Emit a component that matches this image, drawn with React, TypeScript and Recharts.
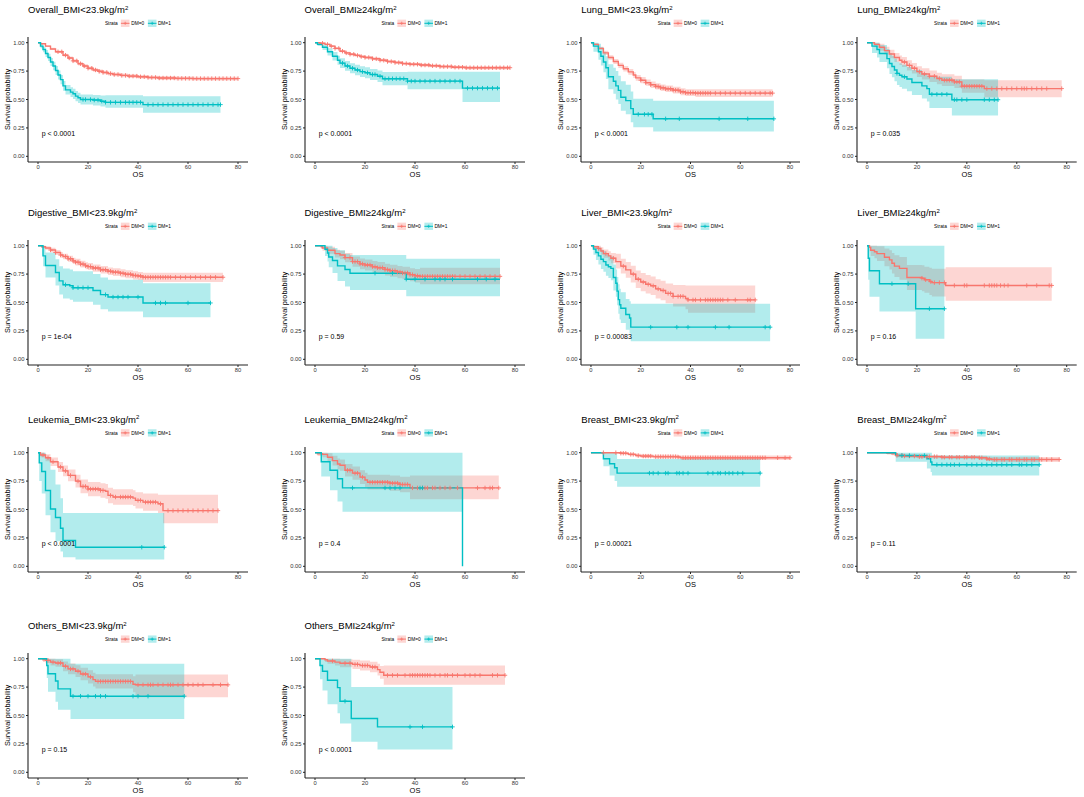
import React from "react";
import { ComposedChart, Area, Line, Scatter, XAxis, YAxis, ReferenceDot } from "recharts";

// each step: [time, survival, lower CI, upper CI]
type Step = [number, number, number, number];

const RED = "#F8766D";
const TEAL = "#00BFC4";

const titles = [
  "Overall_BMI<23.9kg/m", "Overall_BMI≥24kg/m", "Lung_BMI<23.9kg/m", "Lung_BMI≥24kg/m",
  "Digestive_BMI<23.9kg/m", "Digestive_BMI≥24kg/m", "Liver_BMI<23.9kg/m", "Liver_BMI≥24kg/m",
  "Leukemia_BMI<23.9kg/m", "Leukemia_BMI≥24kg/m", "Breast_BMI<23.9kg/m", "Breast_BMI≥24kg/m",
  "Others_BMI<23.9kg/m", "Others_BMI≥24kg/m",
];
const pValues = [
  "p < 0.0001", "p < 0.0001", "p < 0.0001", "p = 0.035",
  "p = 1e-04", "p = 0.59", "p = 0.00083", "p = 0.16",
  "p < 0.0001", "p = 0.4", "p = 0.00021", "p = 0.11",
  "p = 0.15", "p < 0.0001",
];
const xTicks = [0, 20, 40, 60, 80];
const yTicks = [0, 0.25, 0.5, 0.75, 1];

// Overall BMI<23.9
const overallLow0: Step[] = [
  [0, 1, 1, 1], [1, 0.99, 0.985, 0.995], [3, 0.97, 0.962, 0.978], [5, 0.945, 0.935, 0.955],
  [7, 0.92, 0.909, 0.931], [10, 0.89, 0.878, 0.902], [12, 0.865, 0.852, 0.878], [14, 0.84, 0.826, 0.854],
  [16, 0.815, 0.8, 0.83], [18, 0.795, 0.78, 0.81], [20, 0.775, 0.76, 0.79], [22, 0.76, 0.745, 0.775],
  [24, 0.748, 0.732, 0.764], [26, 0.738, 0.722, 0.754], [28, 0.728, 0.712, 0.744], [30, 0.72, 0.704, 0.736],
  [33, 0.712, 0.696, 0.728], [36, 0.706, 0.69, 0.722], [40, 0.7, 0.684, 0.716], [44, 0.694, 0.678, 0.71],
  [48, 0.689, 0.672, 0.706], [55, 0.686, 0.669, 0.703], [62, 0.684, 0.667, 0.701], [80, 0.684, 0.667, 0.701],
];
const overallLow0Cens = [8, 9.5, 11, 12.5, 14, 15.5, 17, 18.5, 20, 21.5, 23, 24.5, 26, 27.5, 29, 30.5, 32, 33.5, 35, 36.5, 38, 39.5, 41, 42.5, 44, 45.5, 47, 48.5, 50, 51.5, 53, 54.5, 56, 57.5, 59, 60.5, 62, 63.5, 65, 66.5, 68, 69.5, 71, 72.5, 74, 75.5, 77, 78.5, 80];
const overallLow1: Step[] = [
  [0, 1, 1, 1], [1, 0.97, 0.95, 0.99], [2, 0.94, 0.915, 0.965], [3, 0.905, 0.875, 0.935],
  [4, 0.87, 0.838, 0.902], [5, 0.83, 0.795, 0.865], [6, 0.795, 0.758, 0.832], [7, 0.755, 0.716, 0.794],
  [8, 0.715, 0.675, 0.755], [9, 0.675, 0.634, 0.716], [10, 0.62, 0.578, 0.662], [11, 0.585, 0.543, 0.627],
  [13, 0.565, 0.523, 0.607], [14, 0.55, 0.505, 0.595], [15, 0.53, 0.485, 0.575], [16, 0.515, 0.47, 0.56],
  [17, 0.5, 0.455, 0.545], [22, 0.495, 0.448, 0.54], [25, 0.485, 0.438, 0.535], [27, 0.475, 0.428, 0.537],
  [42, 0.455, 0.383, 0.528], [73, 0.455, 0.383, 0.528],
];
const overallLow1Cens = [18, 19, 21, 22.5, 24, 25.5, 27, 29, 31, 33, 35, 36.5, 38, 39.5, 41, 44, 46, 48, 50, 52, 54, 56, 58, 60, 62, 64, 66, 68, 70, 72, 73];

// Overall BMI>=24
const overallHigh0: Step[] = [
  [0, 1, 1, 1], [2, 0.995, 0.99, 1], [4, 0.985, 0.978, 0.992], [6, 0.97, 0.962, 0.978],
  [8, 0.95, 0.941, 0.959], [10, 0.925, 0.915, 0.935], [12, 0.91, 0.899, 0.921], [14, 0.898, 0.886, 0.91],
  [16, 0.888, 0.876, 0.9], [18, 0.878, 0.866, 0.89], [20, 0.87, 0.857, 0.883], [23, 0.858, 0.845, 0.871],
  [26, 0.845, 0.832, 0.858], [29, 0.834, 0.821, 0.847], [32, 0.825, 0.812, 0.838], [35, 0.816, 0.803, 0.829],
  [38, 0.81, 0.796, 0.824], [42, 0.803, 0.789, 0.817], [46, 0.797, 0.783, 0.811], [50, 0.79, 0.776, 0.804],
  [55, 0.784, 0.77, 0.798], [60, 0.78, 0.765, 0.795], [78, 0.78, 0.765, 0.795],
];
const overallHigh0Cens = [3, 5, 6.5, 8, 9.5, 11, 12.5, 14, 15.5, 17, 18.5, 20, 21.5, 23, 24.5, 26, 27.5, 29, 30.5, 32, 33.5, 35, 36.5, 38, 39.5, 41, 42.5, 44, 45.5, 47, 48.5, 50, 51.5, 53, 54.5, 56, 57.5, 59, 60.5, 62, 63.5, 65, 66.5, 68, 69.5, 71, 72.5, 74, 75.5, 77, 78];
const overallHigh1: Step[] = [
  [0, 1, 1, 1], [1, 0.985, 0.97, 1], [3, 0.96, 0.935, 0.985], [5, 0.92, 0.888, 0.952],
  [7, 0.88, 0.843, 0.917], [9, 0.845, 0.805, 0.885], [10, 0.82, 0.778, 0.862], [12, 0.795, 0.752, 0.838],
  [14, 0.775, 0.73, 0.82], [16, 0.76, 0.714, 0.806], [18, 0.745, 0.698, 0.792], [20, 0.735, 0.687, 0.783],
  [22, 0.72, 0.671, 0.769], [25, 0.705, 0.655, 0.755], [27, 0.683, 0.625, 0.742], [37, 0.662, 0.59, 0.745],
  [59, 0.6, 0.478, 0.745], [74, 0.6, 0.478, 0.745],
];
const overallHigh1Cens = [11, 13, 15, 17, 19, 21, 23, 24, 26, 28, 29.5, 31, 32.5, 34, 35.5, 37, 38.5, 40, 42, 44, 46, 48, 50, 52, 54, 56, 58, 61, 63, 65, 67, 69, 71, 73];

// Lung BMI<23.9
const lungLow0: Step[] = [
  [0, 1, 1, 1], [1, 0.985, 0.975, 0.995], [3, 0.95, 0.935, 0.965], [5, 0.91, 0.892, 0.928],
  [7, 0.87, 0.85, 0.89], [9, 0.835, 0.813, 0.857], [11, 0.8, 0.777, 0.823], [13, 0.77, 0.746, 0.794],
  [15, 0.743, 0.718, 0.768], [17, 0.715, 0.689, 0.741], [18, 0.69, 0.664, 0.716], [20, 0.67, 0.643, 0.697],
  [22, 0.648, 0.62, 0.676], [24, 0.63, 0.602, 0.658], [26, 0.615, 0.587, 0.643], [28, 0.603, 0.574, 0.632],
  [30, 0.594, 0.565, 0.623], [33, 0.582, 0.552, 0.612], [36, 0.568, 0.538, 0.598], [38, 0.56, 0.53, 0.59],
  [42, 0.556, 0.522, 0.59], [73, 0.556, 0.522, 0.59],
];
const lungLow0Cens = [20, 22, 24, 26, 27, 28, 29, 30, 31, 32, 33, 34, 35, 36, 37, 38, 39, 40, 41, 42, 43, 44, 45, 46, 47, 48, 50, 52, 54, 56, 58, 60, 62, 64, 66, 68, 70, 72, 73];
const lungLow1: Step[] = [
  [0, 1, 1, 1], [1, 0.97, 0.92, 1], [3, 0.92, 0.85, 0.99], [4, 0.88, 0.8, 0.96],
  [5, 0.83, 0.74, 0.92], [6, 0.78, 0.68, 0.88], [7, 0.7, 0.59, 0.81], [9, 0.66, 0.55, 0.78],
  [10, 0.62, 0.5, 0.75], [11, 0.58, 0.46, 0.71], [12, 0.52, 0.4, 0.66], [14, 0.49, 0.37, 0.63],
  [16, 0.42, 0.3, 0.57], [17, 0.37, 0.255, 0.507], [25, 0.33, 0.218, 0.49], [73.5, 0.33, 0.218, 0.49],
];
const lungLow1Cens = [19, 21.5, 23, 24.5, 30, 35.5, 51.5, 63, 73.5];

// Lung BMI>=24
const lungHigh0: Step[] = [
  [0, 1, 1, 1], [3, 0.985, 0.96, 1], [5, 0.96, 0.93, 0.99], [7, 0.93, 0.895, 0.965],
  [9, 0.9, 0.862, 0.938], [11, 0.87, 0.83, 0.91], [13, 0.845, 0.803, 0.887], [14, 0.83, 0.787, 0.873],
  [16, 0.8, 0.755, 0.845], [18, 0.775, 0.728, 0.822], [20, 0.745, 0.697, 0.793], [22, 0.725, 0.676, 0.774],
  [25, 0.705, 0.655, 0.755], [28, 0.685, 0.634, 0.736], [30, 0.67, 0.618, 0.722], [35, 0.655, 0.602, 0.708],
  [38, 0.617, 0.56, 0.675], [47, 0.596, 0.52, 0.67], [78, 0.596, 0.52, 0.67],
];
const lungHigh0Cens = [15, 17, 19, 21, 23, 25, 27, 29, 31, 32, 33, 34, 35, 36, 37, 38, 39, 40, 41, 42, 43, 44, 45, 46, 48, 50, 52, 54, 56, 58, 60, 62, 63, 64, 66, 68, 70, 72, 78];
const lungHigh1: Step[] = [
  [0, 1, 1, 1], [2, 0.97, 0.91, 1], [4, 0.94, 0.87, 1], [5, 0.905, 0.83, 0.98],
  [8, 0.86, 0.775, 0.945], [9, 0.817, 0.725, 0.91], [10, 0.79, 0.695, 0.885], [11, 0.76, 0.66, 0.86],
  [12, 0.73, 0.628, 0.832], [13, 0.714, 0.61, 0.818], [14, 0.7, 0.595, 0.805], [16, 0.68, 0.573, 0.787],
  [18, 0.65, 0.54, 0.76], [22, 0.62, 0.508, 0.732], [24, 0.596, 0.482, 0.71], [25, 0.546, 0.425, 0.7],
  [34, 0.498, 0.36, 0.678], [52.5, 0.498, 0.36, 0.678],
];
const lungHigh1Cens = [12, 15, 26, 28, 30, 32, 35, 36, 38, 40, 47, 49, 51, 52.5];

// Digestive BMI<23.9
const digLow0: Step[] = [
  [0, 1, 1, 1], [1.5, 0.99, 0.98, 1], [3, 0.98, 0.965, 0.995], [5, 0.962, 0.943, 0.981],
  [7, 0.94, 0.918, 0.962], [9, 0.918, 0.894, 0.942], [10, 0.905, 0.88, 0.93], [12, 0.885, 0.858, 0.912],
  [14, 0.866, 0.838, 0.894], [15, 0.855, 0.826, 0.884], [17, 0.838, 0.808, 0.868], [19, 0.824, 0.793, 0.855],
  [20, 0.816, 0.785, 0.847], [22, 0.803, 0.771, 0.835], [25, 0.788, 0.755, 0.821], [28, 0.775, 0.742, 0.808],
  [30, 0.767, 0.733, 0.801], [33, 0.757, 0.722, 0.792], [35, 0.748, 0.713, 0.783], [38, 0.738, 0.702, 0.774],
  [40, 0.733, 0.697, 0.769], [42, 0.722, 0.68, 0.762], [74, 0.722, 0.68, 0.762],
];
const digLow0Cens = [5, 7, 9, 11, 12, 13, 14, 15, 16, 17, 18, 19, 20, 21, 22, 23, 24, 25, 26, 27, 28, 29, 30, 31, 32, 33, 34, 35, 36, 37, 38, 39, 40, 41, 42, 43, 44, 45, 46, 47, 48, 49, 50, 51, 52, 53, 55, 57, 59, 61, 63, 65, 67, 69, 71, 74];
const digLow1: Step[] = [
  [0, 1, 1, 1], [2, 0.91, 0.82, 1], [3, 0.825, 0.72, 0.94], [7, 0.764, 0.65, 0.88],
  [8.5, 0.69, 0.57, 0.82], [10, 0.656, 0.535, 0.8], [12.7, 0.647, 0.525, 0.79], [14, 0.63, 0.507, 0.775],
  [22, 0.606, 0.48, 0.75], [25, 0.569, 0.44, 0.72], [28, 0.548, 0.42, 0.7], [42, 0.496, 0.37, 0.67],
  [69, 0.496, 0.37, 0.67],
];
const digLow1Cens = [11, 14, 16, 18, 20, 27, 30, 32, 34, 36, 40, 47, 49, 51, 60, 69];

// Digestive BMI>=24
const digHigh0: Step[] = [
  [0, 1, 1, 1], [2.5, 0.99, 0.97, 1], [3, 0.98, 0.955, 1], [5, 0.96, 0.93, 0.99],
  [8, 0.93, 0.895, 0.965], [10, 0.918, 0.88, 0.956], [12, 0.895, 0.855, 0.935], [15, 0.86, 0.815, 0.905],
  [18, 0.84, 0.793, 0.887], [20, 0.83, 0.782, 0.878], [23, 0.815, 0.765, 0.865], [25, 0.806, 0.755, 0.857],
  [28, 0.79, 0.738, 0.842], [30, 0.78, 0.727, 0.833], [33, 0.768, 0.714, 0.822], [35, 0.76, 0.705, 0.815],
  [38, 0.745, 0.688, 0.802], [40, 0.735, 0.675, 0.795], [42, 0.73, 0.66, 0.805], [74, 0.73, 0.66, 0.805],
];
const digHigh0Cens = [12, 14, 15, 16, 17, 18, 19, 20, 21, 22, 23, 24, 25, 26, 27, 28, 29, 30, 31, 32, 33, 34, 35, 36, 37, 38, 39, 40, 41, 42, 43, 44, 45, 46, 47, 48, 49, 50, 51, 52, 53, 54, 55, 56, 58, 60, 62, 64, 66, 68, 70, 72, 74];
const digHigh1: Step[] = [
  [0, 1, 1, 1], [4, 0.968, 0.91, 1], [5, 0.935, 0.86, 1], [5.5, 0.9, 0.81, 1],
  [7, 0.87, 0.76, 0.98], [9, 0.822, 0.69, 0.96], [12, 0.79, 0.64, 0.93], [14, 0.758, 0.61, 0.918],
  [36.5, 0.705, 0.554, 0.885], [74, 0.705, 0.554, 0.885],
];
const digHigh1Cens = [24, 31, 36.5, 40, 44, 48, 50, 52, 55, 65, 68.5, 72];

// Liver BMI<23.9
const liverLow0: Step[] = [
  [0, 1, 1, 1], [1, 0.99, 0.97, 1], [3, 0.975, 0.95, 1], [4, 0.953, 0.92, 0.986],
  [5, 0.93, 0.893, 0.967], [7, 0.91, 0.87, 0.95], [8, 0.89, 0.845, 0.935], [10, 0.86, 0.8, 0.93],
  [12, 0.82, 0.755, 0.885], [14, 0.787, 0.717, 0.857], [16, 0.75, 0.676, 0.824], [18, 0.705, 0.628, 0.782],
  [20, 0.68, 0.6, 0.76], [22, 0.66, 0.579, 0.741], [24, 0.647, 0.565, 0.729], [26, 0.62, 0.536, 0.704],
  [28, 0.606, 0.52, 0.692], [30, 0.58, 0.493, 0.667], [33, 0.554, 0.465, 0.655], [38, 0.535, 0.44, 0.65],
  [39, 0.523, 0.41, 0.65], [66, 0.523, 0.41, 0.65],
];
const liverLow0Cens = [3, 6, 9, 13, 17, 19, 21, 23, 25, 27, 29, 31, 32, 33, 35, 36, 37, 39, 41, 42, 44, 46, 47, 48, 49, 50, 51, 52, 53, 55, 58, 63, 64, 66];
const liverLow1: Step[] = [
  [0, 1, 1, 1], [1, 0.97, 0.92, 1], [2, 0.94, 0.875, 1], [3, 0.91, 0.835, 0.985],
  [4, 0.88, 0.795, 0.965], [5, 0.86, 0.77, 0.95], [6, 0.83, 0.735, 0.925], [7, 0.815, 0.715, 0.915],
  [8, 0.8, 0.695, 0.905], [9, 0.72, 0.605, 0.835], [10, 0.67, 0.55, 0.79], [10.5, 0.6, 0.475, 0.725],
  [11, 0.525, 0.4, 0.66], [11.5, 0.48, 0.35, 0.62], [12, 0.45, 0.32, 0.59], [14, 0.394, 0.26, 0.53],
  [15.5, 0.364, 0.23, 0.51], [16, 0.283, 0.16, 0.49], [72, 0.283, 0.16, 0.49],
];
const liverLow1Cens = [24, 34.5, 39, 50, 55.5, 70, 72];

// Liver BMI>=24
const liverHigh0: Step[] = [
  [0, 1, 1, 1], [1, 0.985, 0.95, 1], [1.5, 0.96, 0.91, 1], [3, 0.947, 0.89, 1],
  [4, 0.93, 0.865, 0.995], [7, 0.898, 0.82, 0.975], [9, 0.875, 0.79, 0.96], [10, 0.845, 0.755, 0.935],
  [11, 0.82, 0.725, 0.915], [13, 0.8, 0.7, 0.9], [16, 0.72, 0.61, 0.83], [22, 0.714, 0.6, 0.828],
  [23, 0.7, 0.585, 0.815], [25, 0.685, 0.565, 0.805], [26, 0.675, 0.553, 0.797], [31.5, 0.65, 0.515, 0.81],
  [74, 0.65, 0.515, 0.81],
];
const liverHigh0Cens = [22, 23.5, 25.5, 27, 29, 31, 35, 39, 40, 47, 49, 50, 51, 52, 53.5, 55, 56.5, 64, 68, 73, 74];
const liverHigh1: Step[] = [
  [0, 1, 1, 1], [0.5, 0.89, 0.7, 1], [1, 0.78, 0.55, 1], [5, 0.665, 0.42, 1],
  [19.5, 0.445, 0.18, 1], [31, 0.445, 0.18, 1],
];
const liverHigh1Cens = [10, 16.5, 25, 31];

// Leukemia BMI<23.9
const leukLow0: Step[] = [
  [0, 1, 1, 1], [1, 0.98, 0.96, 1], [3, 0.956, 0.925, 0.987], [5, 0.92, 0.882, 0.958],
  [8, 0.874, 0.83, 0.918], [10, 0.84, 0.792, 0.888], [12, 0.8, 0.748, 0.852], [15, 0.75, 0.694, 0.806],
  [17, 0.703, 0.642, 0.764], [20, 0.68, 0.617, 0.743], [25, 0.668, 0.604, 0.732], [27, 0.66, 0.595, 0.725],
  [28, 0.624, 0.556, 0.692], [30, 0.61, 0.541, 0.679], [38, 0.6, 0.53, 0.67], [39, 0.58, 0.508, 0.652],
  [42, 0.565, 0.49, 0.64], [48, 0.55, 0.47, 0.63], [50, 0.49, 0.38, 0.63], [72, 0.49, 0.38, 0.63],
];
const leukLow0Cens = [2, 4, 6, 9, 11, 13, 16, 18, 19, 20, 21, 22, 23, 24, 25, 26, 29, 31, 33, 34, 35, 36, 37, 40, 41, 43, 44, 45, 46, 47, 49, 52, 54, 56, 58, 60, 62, 64, 66, 68, 70, 72];
const leukLow1: Step[] = [
  [0, 1, 1, 1], [0.5, 0.91, 0.75, 1], [1.5, 0.835, 0.64, 1], [3, 0.667, 0.45, 0.95],
  [5, 0.505, 0.3, 0.85], [7, 0.43, 0.22, 0.72], [9, 0.335, 0.13, 0.6], [10, 0.227, 0.08, 0.47],
  [15, 0.168, 0.06, 0.47], [50.5, 0.168, 0.06, 0.47],
];
const leukLow1Cens = [41.5, 50.5];

// Leukemia BMI>=24
const leukHigh0: Step[] = [
  [0, 1, 1, 1], [1, 0.99, 0.97, 1], [3, 0.985, 0.96, 1], [5, 0.96, 0.925, 0.995],
  [7, 0.93, 0.888, 0.972], [9, 0.9, 0.852, 0.948], [10, 0.89, 0.84, 0.94], [12, 0.845, 0.79, 0.9],
  [15, 0.82, 0.762, 0.878], [18, 0.785, 0.724, 0.846], [20, 0.76, 0.697, 0.823], [21, 0.74, 0.675, 0.805],
  [30, 0.732, 0.665, 0.799], [34, 0.72, 0.652, 0.788], [38, 0.69, 0.59, 0.8], [73.5, 0.69, 0.59, 0.8],
];
const leukHigh0Cens = [13, 14, 16, 17, 19, 22, 23, 24, 25, 26, 27, 28, 29, 30, 31, 32, 33, 34, 35, 36, 37, 39, 41, 43, 44, 45, 47, 48, 50, 52, 54, 57, 65, 68, 70, 71, 73.5];
const leukHigh1: Step[] = [
  [0, 1, 1, 1], [2.5, 0.92, 0.79, 1], [6, 0.845, 0.67, 1], [9, 0.77, 0.57, 1],
  [11, 0.69, 0.48, 1], [59, 0, 0.48, 1],
];
const leukHigh1Cens = [15, 28, 30, 32, 34, 42, 43];

// Breast BMI<23.9
const breastLow0: Step[] = [
  [0, 1, 1, 1], [12, 0.995, 0.985, 1], [15, 0.985, 0.972, 0.998], [18, 0.975, 0.96, 0.99],
  [20, 0.97, 0.954, 0.986], [25, 0.965, 0.948, 0.982], [35, 0.962, 0.944, 0.98], [36, 0.955, 0.935, 0.975],
  [80, 0.955, 0.935, 0.975],
];
const breastLow0Cens = [5, 10, 12, 13, 14, 16, 17, 19, 21, 22, 23, 24, 26, 27, 28, 29, 30, 31, 32, 33, 34, 35, 37, 38, 39, 40, 41, 42, 43, 44, 45, 46, 47, 48, 49, 50, 51, 52, 53, 54, 55, 56, 57, 58, 59, 60, 61, 62, 63, 64, 65, 66, 67, 68, 69, 70, 75, 78, 80];
const breastLow1: Step[] = [
  [0, 1, 1, 1], [5, 0.947, 0.88, 1], [7.5, 0.903, 0.8, 1], [9.5, 0.868, 0.75, 1],
  [10.5, 0.82, 0.7, 0.945], [68, 0.82, 0.7, 0.945],
];
const breastLow1Cens = [23.5, 25, 27, 30, 31, 34.5, 35.5, 37, 39, 47, 49, 51, 52, 54, 55.5, 57, 59, 61, 68];

// Breast BMI>=24
const breastHigh0: Step[] = [
  [0, 1, 1, 1], [8, 0.995, 0.985, 1], [10, 0.99, 0.978, 1], [12, 0.975, 0.96, 0.99],
  [15, 0.97, 0.955, 0.985], [20, 0.965, 0.95, 0.98], [30, 0.96, 0.944, 0.976], [45, 0.955, 0.938, 0.972],
  [48, 0.945, 0.926, 0.964], [50, 0.94, 0.918, 0.962], [77, 0.94, 0.918, 0.962],
];
const breastHigh0Cens = [12, 14, 15, 17, 19, 21, 22, 24, 25, 27, 28, 30, 31, 33, 34, 36, 37, 39, 40, 42, 43, 45, 46, 48, 49, 51, 52, 54, 55, 57, 58, 60, 61, 63, 64, 66, 67, 69, 70, 72, 74, 77];
const breastHigh1: Step[] = [
  [0, 1, 1, 1], [11.5, 0.975, 0.92, 1], [24, 0.947, 0.86, 1], [25.5, 0.918, 0.83, 1],
  [26, 0.894, 0.8, 0.975], [69, 0.894, 0.8, 0.975],
];
const breastHigh1Cens = [14, 17, 23, 28, 30, 32, 33.5, 35, 37, 40, 42, 44, 46, 48, 50, 52, 54, 56, 58, 61, 62, 64, 66, 69];

// Others BMI<23.9
const othersLow0: Step[] = [
  [0, 1, 1, 1], [2, 0.99, 0.97, 1], [3, 0.985, 0.96, 1], [5, 0.97, 0.94, 1],
  [7, 0.962, 0.93, 0.994], [10, 0.933, 0.89, 0.976], [12, 0.91, 0.862, 0.958], [15, 0.89, 0.838, 0.942],
  [17, 0.865, 0.81, 0.92], [20, 0.84, 0.782, 0.898], [22, 0.816, 0.755, 0.877], [23, 0.8, 0.737, 0.863],
  [38, 0.775, 0.705, 0.845], [39, 0.77, 0.66, 0.86], [76, 0.77, 0.66, 0.86],
];
const othersLow0Cens = [4, 6, 8, 9, 11, 13, 14, 16, 18, 19, 21, 24, 25, 26, 27, 28, 29, 30, 31, 32, 33, 34, 35, 36, 37, 40, 42, 44, 45, 46, 48, 50, 52, 53, 54, 56, 58, 60, 62, 64, 66, 70, 73, 76];
const othersLow1: Step[] = [
  [0, 1, 1, 1], [3.5, 0.94, 0.83, 1], [4, 0.868, 0.71, 1], [7, 0.804, 0.62, 1],
  [8, 0.734, 0.55, 1], [13, 0.67, 0.47, 0.955], [58.5, 0.67, 0.47, 0.955],
];
const othersLow1Cens = [14, 17, 20, 23, 25, 27, 38, 40, 44, 58.5];

// Others BMI>=24
const othersHigh0: Step[] = [
  [0, 1, 1, 1], [4, 0.99, 0.97, 1], [5, 0.98, 0.955, 1], [8, 0.97, 0.94, 1],
  [10, 0.96, 0.925, 0.995], [15, 0.95, 0.91, 0.99], [18, 0.94, 0.897, 0.983], [22, 0.927, 0.88, 0.974],
  [25, 0.904, 0.852, 0.956], [26, 0.88, 0.824, 0.936], [27.5, 0.854, 0.77, 0.94], [76, 0.854, 0.77, 0.94],
];
const othersHigh0Cens = [7, 12, 14, 16, 17, 19, 20, 21, 23, 24, 29, 31, 33, 36, 38, 39, 40, 41, 42, 43, 44, 45, 46, 48, 50, 52, 53, 55, 57, 60, 62, 64, 66, 71, 73, 76];
const othersHigh1: Step[] = [
  [0, 1, 1, 1], [2, 0.94, 0.82, 1], [3, 0.89, 0.72, 1], [5, 0.81, 0.6, 1],
  [9, 0.745, 0.52, 1], [10, 0.626, 0.43, 1], [14.5, 0.474, 0.27, 0.75], [25, 0.4, 0.2, 0.75],
  [55, 0.4, 0.2, 0.75],
];
const othersHigh1Cens = [12, 38, 43, 55];

const dm0Curves = [overallLow0, overallHigh0, lungLow0, lungHigh0, digLow0, digHigh0, liverLow0, liverHigh0, leukLow0, leukHigh0, breastLow0, breastHigh0, othersLow0, othersHigh0];
const dm0Cens = [overallLow0Cens, overallHigh0Cens, lungLow0Cens, lungHigh0Cens, digLow0Cens, digHigh0Cens, liverLow0Cens, liverHigh0Cens, leukLow0Cens, leukHigh0Cens, breastLow0Cens, breastHigh0Cens, othersLow0Cens, othersHigh0Cens];
const dm1Curves = [overallLow1, overallHigh1, lungLow1, lungHigh1, digLow1, digHigh1, liverLow1, liverHigh1, leukLow1, leukHigh1, breastLow1, breastHigh1, othersLow1, othersHigh1];
const dm1Cens = [overallLow1Cens, overallHigh1Cens, lungLow1Cens, lungHigh1Cens, digLow1Cens, digHigh1Cens, liverLow1Cens, liverHigh1Cens, leukLow1Cens, leukHigh1Cens, breastLow1Cens, breastHigh1Cens, othersLow1Cens, othersHigh1Cens];

// page layout (plot-area left edge / width per column, top per row)
const COL_LEFT = [28, 304.5, 581.3, 857.3];
const COL_W = [220, 220, 219, 219.7];
const ROW_TOP = [37, 240, 446.6, 652.8];
const PLOT_H = 125;
const Y_AXIS_W = 28;
const TOP_PAD = 37;
const X_AXIS_H = 30;
const INK = "#222";

function survAt(curve: Step[], t: number) {
  let s = curve[0][1];
  for (const p of curve) {
    if (p[0] <= t) s = p[1];
    else break;
  }
  return s;
}

const plusShape = (color: string) => (props: any) => {
  const { cx, cy } = props;
  return (
    <g stroke={color} strokeWidth={0.9}>
      <line x1={cx - 2.2} x2={cx + 2.2} y1={cy} y2={cy} />
      <line x1={cx} x2={cx} y1={cy - 2.2} y2={cy + 2.2} />
    </g>
  );
};

function KmPanel({ idx }: { idx: number }) {
  const col = idx % 4;
  const row = Math.floor(idx / 4);
  const w = COL_W[col];
  const groups = [
    { color: RED, curve: dm0Curves[idx], cens: dm0Cens[idx] },
    { color: TEAL, curve: dm1Curves[idx], cens: dm1Cens[idx] },
  ];
  return (
    <div style={{ position: "absolute", left: COL_LEFT[col] - Y_AXIS_W, top: ROW_TOP[row] - TOP_PAD }}>
      <ComposedChart
        width={Y_AXIS_W + w + 6}
        height={TOP_PAD + PLOT_H + X_AXIS_H}
        margin={{ top: TOP_PAD, right: 6, bottom: 0, left: 0 }}
      >
        <XAxis
          type="number" dataKey="t" domain={[-4, 84]} ticks={xTicks} allowDataOverflow
          height={X_AXIS_H} tickSize={2} tickMargin={1}
          axisLine={{ stroke: INK, strokeWidth: 1.1 }} tickLine={{ stroke: INK }}
          tick={{ fontSize: 5.8, fill: "#333" }}
          label={{ value: "OS", position: "insideTop", offset: 9.5, fontSize: 7.5, fill: "#000" }}
        />
        <YAxis
          type="number" dataKey="s" domain={[-0.05, 1.05]} ticks={yTicks} allowDataOverflow
          width={Y_AXIS_W} tickSize={2} tickMargin={1.5}
          tickFormatter={(v: number) => v.toFixed(2)}
          axisLine={{ stroke: INK, strokeWidth: 1.1 }} tickLine={{ stroke: INK }}
          tick={{ fontSize: 5.8, fill: "#333" }}
          label={{
            value: "Survival probability", angle: -90, position: "insideLeft", offset: 7.3,
            fontSize: 7.3, fill: "#000", style: { textAnchor: "middle" },
          }}
        />
        {groups.map((g, i) => (
          <Area
            key={"band" + i}
            data={g.curve.map(([t, , lo, hi]) => ({ t, band: [lo, hi] }))}
            dataKey="band" type="stepAfter" fill={g.color} fillOpacity={0.3}
            stroke="none" isAnimationActive={false} activeDot={false}
          />
        ))}
        {groups.map((g, i) => (
          <Line
            key={"line" + i}
            data={g.curve.map(([t, s]) => ({ t, s }))}
            dataKey="s" type="stepAfter" stroke={g.color} strokeWidth={1.4}
            dot={false} activeDot={false} isAnimationActive={false}
          />
        ))}
        {groups.map((g, i) => (
          <Scatter
            key={"cens" + i}
            data={g.cens.map((t) => ({ t, s: survAt(g.curve, t) }))}
            shape={plusShape(g.color)} isAnimationActive={false}
          />
        ))}
        <ReferenceDot
          x={1.5} y={0.2} r={0} fill="none" stroke="none"
          label={{ value: pValues[idx], position: "right", offset: 0, fontSize: 7, fill: "#000" }}
        />
      </ComposedChart>
    </div>
  );
}

function LegendKey({ x, cy, color }: { x: number; cy: number; color: string }) {
  const mid = x + 4.3;
  return (
    <g>
      <rect x={x} y={cy - 3.65} width={8.6} height={7.3} fill={color} fillOpacity={0.3} />
      <line x1={x} x2={x + 8.6} y1={cy} y2={cy} stroke={color} strokeWidth={1} />
      <line x1={mid - 1.6} x2={mid + 1.6} y1={cy} y2={cy} stroke={color} strokeWidth={0.8} />
      <line x1={mid} x2={mid} y1={cy - 1.6} y2={cy + 1.6} stroke={color} strokeWidth={0.8} />
    </g>
  );
}

export default function App() {
  return (
    <div
      style={{
        position: "absolute", left: 0, top: 0, width: 1084, height: 797, background: "#fff",
        overflow: "hidden", fontFamily: "'Liberation Sans', Arial, Helvetica, sans-serif",
      }}
    >
      {titles.map((_, i) => (
        <KmPanel key={i} idx={i} />
      ))}
      <svg width={1084} height={797} style={{ position: "absolute", left: 0, top: 0, pointerEvents: "none" }}>
        {titles.map((title, i) => {
          const col = i % 4;
          const row = Math.floor(i / 4);
          const x = COL_LEFT[col];
          const cx = x + COL_W[col] / 2;
          const ty = ROW_TOP[row] - 27 + 3.3;
          const ly = ROW_TOP[row] - 13.7;
          return (
            <g key={i}>
              <text x={x} y={ty} fontSize={9.5} fill="#000">
                {title}
                <tspan fontSize={6} dy={-3.6}>2</tspan>
              </text>
              <text x={cx - 33.1} y={ly + 1.7} fontSize={4.8} fill="#000">Strata</text>
              <LegendKey x={cx - 17.1} cy={ly} color={RED} />
              <text x={cx - 6.8} y={ly + 1.7} fontSize={4.8} fill="#000">DM=0</text>
              <LegendKey x={cx + 9.9} cy={ly} color={TEAL} />
              <text x={cx + 19.9} y={ly + 1.7} fontSize={4.8} fill="#000">DM=1</text>
            </g>
          );
        })}
      </svg>
    </div>
  );
}
